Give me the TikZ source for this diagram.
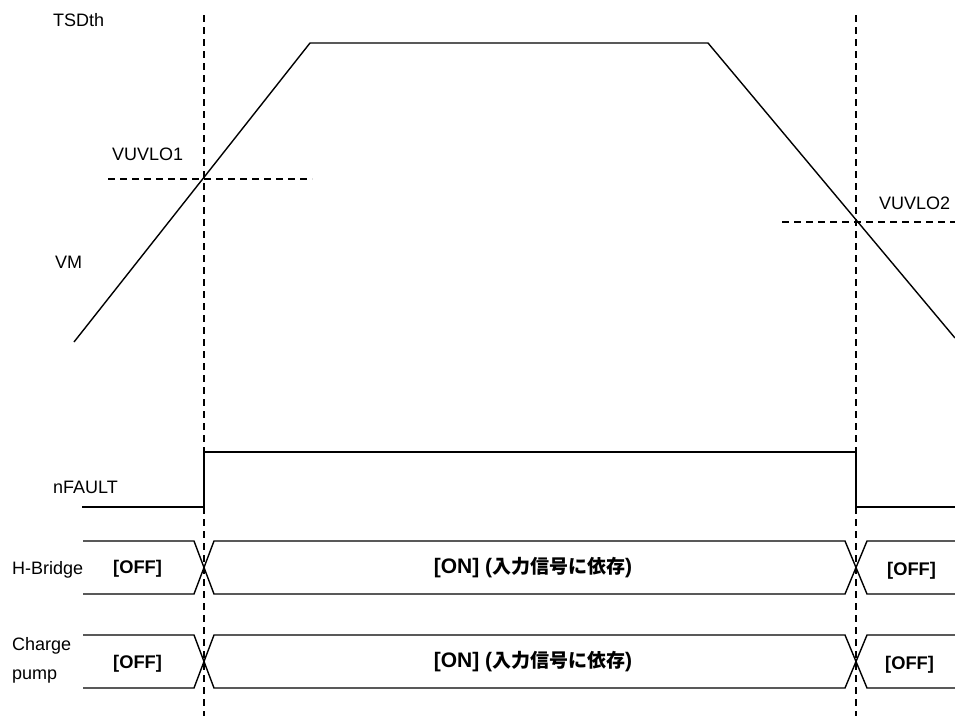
\documentclass[tikz,border=0pt]{standalone}
\usepackage{fontspec}
\setmainfont{Liberation Sans}
\newfontfamily\cjk{Noto Sans CJK JP Bold}
\begin{document}
\begin{tikzpicture}[x=1pt,y=-1pt,
  sig/.style={line width=1.4pt, line join=miter},
  guide/.style={line width=1.4pt, dash pattern=on 7pt off 5pt},
  lbl/.style={anchor=west, inner sep=0pt, font=\fontsize{18}{20}\selectfont},
  state/.style={anchor=west, inner sep=0pt, font=\fontsize{18.3}{20}\selectfont\bfseries},
  onstate/.style={anchor=center, inner sep=0pt, font=\fontsize{21}{24}\selectfont\bfseries}]
\fill[white] (0,0) rectangle (955,716);
\useasboundingbox (0,0) rectangle (955,716);
% guides
\coordinate (g1t) at (204,15); \coordinate (g1b) at (204,716);
\coordinate (g2t) at (856,15); \coordinate (g2b) at (856,716);
\draw[guide] (g1t) -- (g1b);
\draw[guide] (g2t) -- (g2b);
\coordinate (u1a) at (108,179); \coordinate (u1b) at (312,179);
\coordinate (u2a) at (782,222); \coordinate (u2b) at (955,222);
\draw[guide] (u1a) -- (u1b);
\draw[guide] (u2a) -- (u2b);
% VM
\coordinate (vm0) at (74,342); \coordinate (vm1) at (310,43);
\coordinate (vm2) at (708,43); \coordinate (vm3) at (955,338);
\draw[sig] (vm0) -- (vm1) -- (vm2) -- (vm3);
% nFAULT
\coordinate (nf0) at (82,507); \coordinate (nf1) at (204,507);
\coordinate (nf2) at (204,452); \coordinate (nf3) at (856,452);
\coordinate (nf4) at (856,507); \coordinate (nf5) at (955,507);
\draw[sig] (nf0) -- (nf1) -- (nf2) -- (nf3) -- (nf4) -- (nf5);
% H-Bridge bus
\draw[sig] (83,541) -- (194,541) -- (214,594) -- (845,594) -- (867,541) -- (955,541);
\draw[sig] (83,594) -- (194,594) -- (214,541) -- (845,541) -- (867,594) -- (955,594);
% Charge pump bus
\draw[sig] (83,635) -- (194,635) -- (214,688) -- (845,688) -- (867,635) -- (955,635);
\draw[sig] (83,688) -- (194,688) -- (214,635) -- (845,635) -- (867,688) -- (955,688);
% labels
\node[lbl] (tsd) at (53,20) {TSDth};
\node[lbl] (uv1) at (112,154) {VUVLO1};
\node[lbl] (vm) at (55,262) {VM};
\node[lbl] (uv2) at (879,203) {VUVLO2};
\node[lbl] (nfl) at (53,487) {nFAULT};
\node[lbl] (hb) at (12,570) {H-Bridge};
\node[lbl] (cp1) at (12,646) {Charge};
\node[lbl] (cp2) at (12,677) {pump};
\node[state] (hoff1) at (113,569) {[OFF]};
\node[state] (coff1) at (113,664) {[OFF]};
\node[state] (hoff2) at (887,571) {[OFF]};
\node[state] (coff2) at (885,665) {[OFF]};
\node[onstate] (hon) at (533,568) {[ON] ({\cjk\fontsize{19}{22}\selectfont 入力信号に依存})};
\node[onstate] (con) at (533,662) {[ON] ({\cjk\fontsize{19}{22}\selectfont 入力信号に依存})};
\end{tikzpicture}
\end{document}
